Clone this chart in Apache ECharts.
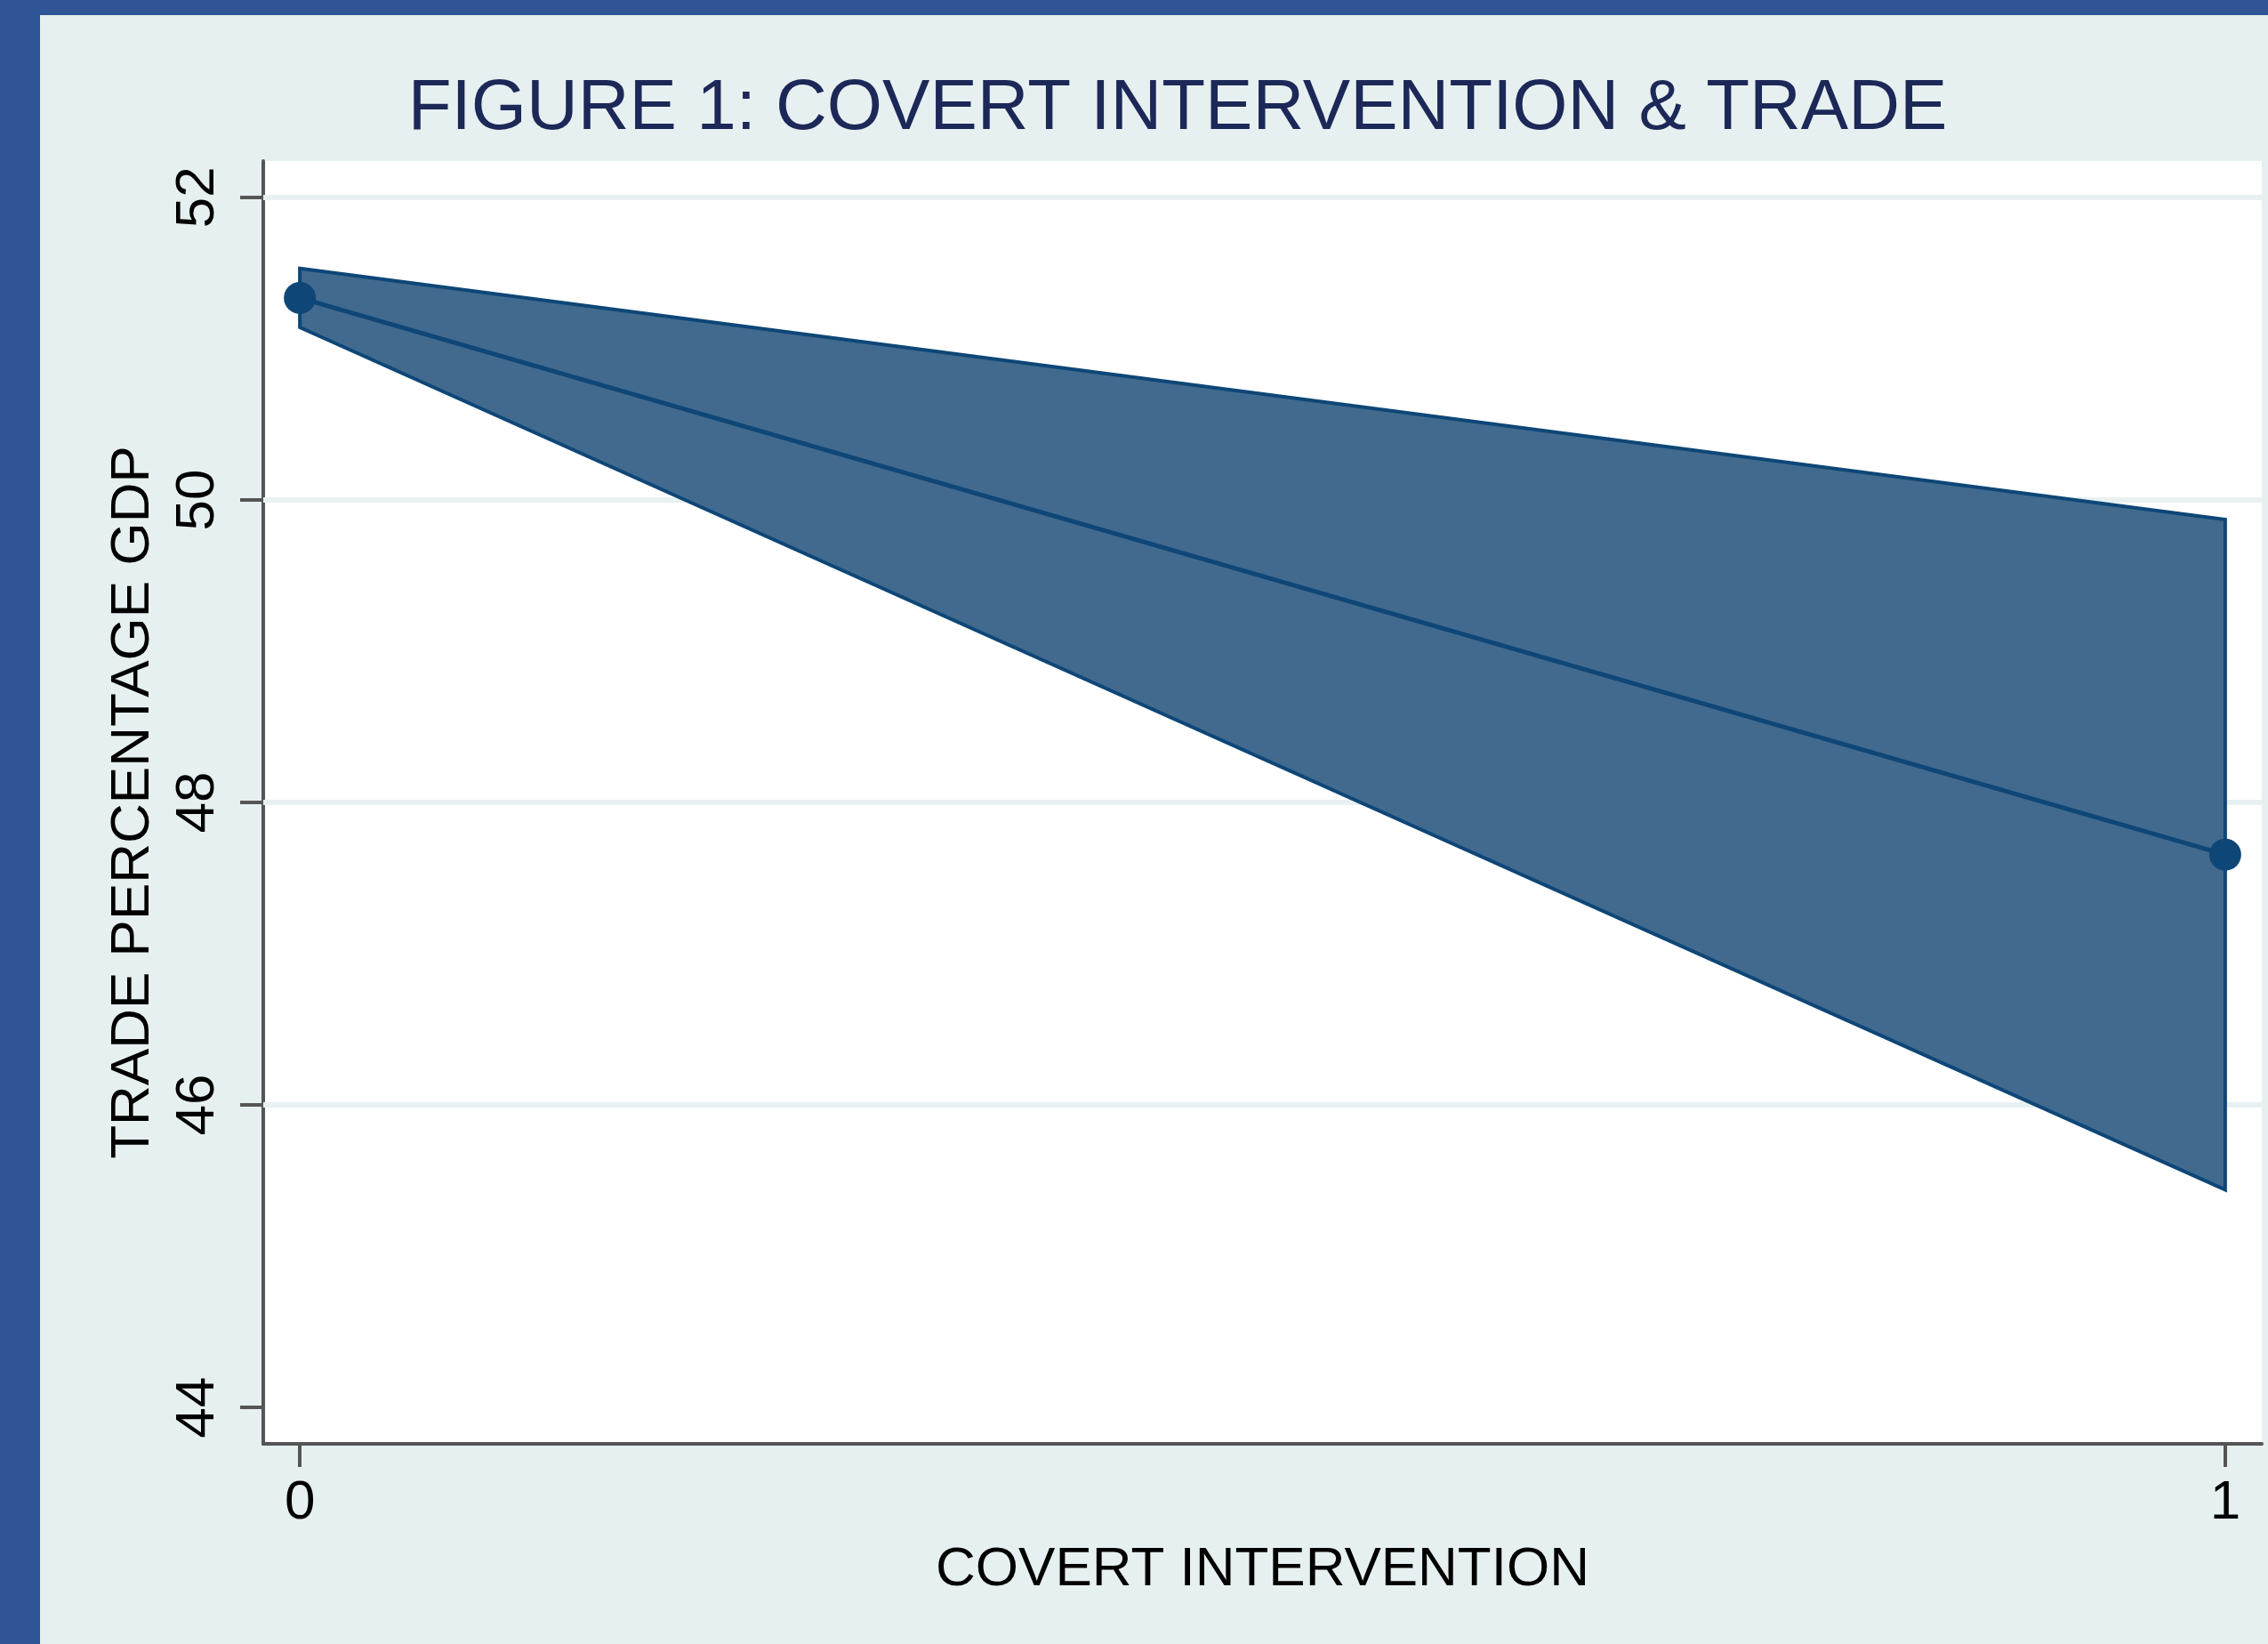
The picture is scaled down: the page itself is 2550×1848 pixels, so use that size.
<!DOCTYPE html>
<html><head><meta charset="utf-8">
<script src="https://cdn.jsdelivr.net/npm/echarts@6/dist/echarts.min.js"></script>
<style>
html,body{margin:0;padding:0;background:#2F5596;width:2550px;height:1848px;overflow:hidden;}
#chart{position:absolute;left:45px;top:17px;width:2505px;height:1831px;}
</style></head><body><div id="chart"></div>
<script>
const titleText = 'FIGURE 1: COVERT INTERVENTION & TRADE';
const xName = 'COVERT INTERVENTION';
const yName = 'TRADE PERCENTAGE GDP';
const xValues = [0, 1];
const meanValues = [51.335, 47.655];
const lowerValues = [51.14, 45.44];
const upperValues = [51.53, 49.87];
const yTicks = [44, 46, 48, 50, 52];
const gridValues = [46, 48, 50, 52];
const xTicks = [0, 1];

const FONT = 'Liberation Sans';
const chart = echarts.init(document.getElementById('chart'));
chart.setOption({
  backgroundColor: '#E7F0F0',
  animation: false,
  title: {
    text: titleText, left: 1279, top: 66, textAlign: 'center', padding: 0,
    textStyle: {fontFamily: FONT, fontSize: 80, fontWeight: 'normal', color: '#1C2857'}
  },
  grid: {left: 251, right: 7, top: 164, bottom: 225, show: true, backgroundColor: '#ffffff', borderWidth: 0},
  xAxis: {
    type: 'value', min: -0.019, max: 1.019,
    name: xName, nameLocation: 'middle', nameGap: 111,
    nameTextStyle: {fontFamily: FONT, fontSize: 62, color: '#000'},
    axisLine: {show: true, onZero: false, lineStyle: {color: '#555', width: 4}},
    axisTick: {show: true, length: 26, inside: false, customValues: xTicks, lineStyle: {color: '#555', width: 4}},
    axisLabel: {customValues: xTicks, margin: 36, fontFamily: FONT, fontSize: 62, color: '#000'},
    splitLine: {show: false}
  },
  yAxis: {
    type: 'value', min: 43.76, max: 52.24,
    name: yName, nameLocation: 'middle', nameGap: 115, nameRotate: 90,
    nameTextStyle: {fontFamily: FONT, fontSize: 62, color: '#000'},
    axisLine: {show: true, onZero: false, lineStyle: {color: '#555', width: 4}},
    axisTick: {show: true, length: 26, inside: false, customValues: yTicks, lineStyle: {color: '#555', width: 4}},
    axisLabel: {customValues: yTicks, rotate: 90, margin: 42, fontFamily: FONT, fontSize: 62, color: '#000'},
    splitLine: {show: false}
  },
  series: [
    {
      type: 'line', data: [], z: 0, silent: true,
      markLine: {
        z: 1, silent: true, symbol: 'none', label: {show: false},
        lineStyle: {color: '#E8F1F2', width: 6, type: 'solid'},
        data: gridValues.map(v => ({yAxis: v}))
      }
    },
    {
      type: 'custom', z: 2, silent: true,
      data: xValues.map((x, i) => [x, lowerValues[i], upperValues[i]]),
      encode: {x: 0, y: [1, 2]},
      renderItem: function (params, api) {
        if (params.dataIndex !== 0) return null;
        const pts = [];
        for (let i = 0; i < xValues.length; i++) pts.push(api.coord([xValues[i], upperValues[i]]));
        for (let i = xValues.length - 1; i >= 0; i--) pts.push(api.coord([xValues[i], lowerValues[i]]));
        return {type: 'polygon', shape: {points: pts},
          style: {fill: '#416A8E', stroke: '#0E4677', lineWidth: 4, lineJoin: 'miter'}};
      }
    },
    {
      type: 'line', z: 3, silent: true,
      data: xValues.map((x, i) => [x, meanValues[i]]),
      symbol: 'circle', symbolSize: 36, showSymbol: true,
      itemStyle: {color: '#0E4677'},
      lineStyle: {color: '#0E4677', width: 5}
    }
  ]
});
</script></body></html>
